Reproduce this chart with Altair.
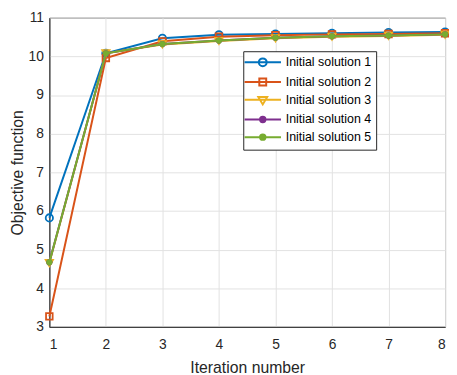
import altair as alt
import pandas as pd

iterations = [1, 2, 3, 4, 5, 6, 7, 8]
series_names = ["Initial solution 1", "Initial solution 2", "Initial solution 3",
                "Initial solution 4", "Initial solution 5"]
sol1 = [5.82, 10.08, 10.47, 10.56, 10.58, 10.60, 10.62, 10.63]
sol2 = [3.27, 9.96, 10.39, 10.51, 10.55, 10.57, 10.58, 10.60]
sol3 = [4.65, 10.08, 10.31, 10.40, 10.47, 10.51, 10.53, 10.56]
sol4 = [4.67, 10.08, 10.32, 10.41, 10.48, 10.52, 10.54, 10.57]
sol5 = [4.67, 10.08, 10.32, 10.41, 10.48, 10.52, 10.54, 10.57]
colors = ["#0072BD", "#D95319", "#EDB120", "#7E2F8E", "#77AC30"]
x_ticks = [1, 2, 3, 4, 5, 6, 7, 8]
y_ticks = [3, 4, 5, 6, 7, 8, 9, 10, 11]

all_series = [sol1, sol2, sol3, sol4, sol5]
rows = []
for name, vals in zip(series_names, all_series):
    for it, v in zip(iterations, vals):
        rows.append({"iteration": it, "value": v, "series": name})
df = pd.DataFrame(rows)

FONT = "Liberation Sans"
TXT = "#262626"

xs = alt.Scale(domain=[1, 8], nice=False, zero=False)
ys = alt.Scale(domain=[3, 11], nice=False, zero=False)
cs = alt.Scale(domain=series_names, range=colors)

X = alt.X("iteration:Q", scale=xs,
          axis=alt.Axis(values=x_ticks, title="Iteration number", format="d"))
Y = alt.Y("value:Q", scale=ys,
          axis=alt.Axis(values=y_ticks, title="Objective function", format="d"))

# marker shapes for plot points
plot_shapes = ["circle", "square", "triangle-down", "circle", "circle"]
plot_filled = [False, False, False, True, True]
plot_sizes = [55, 45, 55, 40, 40]

# legend symbol paths: line + marker (unit = 5px with symbolSize 100)
line = "M-3.7,0H3.7"
circ = "M0.8,0A0.8,0.8,0,1,1,-0.8,0A0.8,0.8,0,1,1,0.8,0"
sq = "M-0.7,-0.7H0.7V0.7H-0.7Z"
tri = "M-0.9,-0.55H0.9L0,0.95Z"
dot = ("M0.55,0A0.55,0.55,0,1,1,-0.55,0A0.55,0.55,0,1,1,0.55,0"
       "M0.35,0A0.35,0.35,0,1,1,-0.35,0A0.35,0.35,0,1,1,0.35,0"
       "M0.15,0A0.15,0.15,0,1,1,-0.15,0A0.15,0.15,0,1,1,0.15,0")
legend_paths = [line + circ, line + sq, line + tri, line + dot, line + dot]

base = alt.Chart(df)
layers = []
for i, name in enumerate(series_names):
    sub = base.transform_filter(alt.datum.series == name)
    layers.append(sub.mark_line(strokeWidth=2, color=colors[i]).encode(x=X, y=Y))
    if plot_filled[i]:
        pts = sub.mark_point(filled=True, opacity=1, strokeWidth=0, color=colors[i],
                             size=plot_sizes[i], shape=plot_shapes[i])
    else:
        pts = sub.mark_point(filled=False, opacity=1, strokeWidth=1.8, color=colors[i],
                             size=plot_sizes[i], shape=plot_shapes[i])
    layers.append(pts.encode(x=X, y=Y))

legend_layer = base.transform_filter("datum.iteration < 0").mark_point(
    filled=False, strokeWidth=2, opacity=1).encode(
    x=X, y=Y,
    color=alt.Color("series:N", scale=cs, title=None,
                    legend=alt.Legend(title=None)),
    shape=alt.Shape("series:N", title=None,
                    scale=alt.Scale(domain=series_names, range=legend_paths),
                    legend=alt.Legend(title=None)),
)
layers.append(legend_layer)

chart = alt.layer(*layers).properties(
    width=402, height=314,
    autosize=alt.AutoSizeParams(type="none"),
    padding={"left": 42, "top": 7, "right": 4, "bottom": 46},
).configure_view(
    stroke=TXT, strokeWidth=1
).configure_axis(
    labelFont=FONT, titleFont=FONT, labelFontSize=14, titleFontSize=16,
    labelColor=TXT, titleColor=TXT, titleFontWeight="normal",
    domainColor=TXT, tickColor=TXT, tickSize=0,
    gridColor="#e2e2e2", gridWidth=1,
).configure_axisX(
    labelPadding=11, titlePadding=8,
).configure_axisY(
    labelPadding=6, titlePadding=3,
).configure_legend(
    orient="none", legendX=197, legendY=34,
    strokeColor=TXT, fillColor="white", padding=5,
    labelFont=FONT, labelFontSize=12.6, labelColor="black",
    symbolSize=100, symbolStrokeWidth=2, symbolOffset=8.5,
    labelOffset=17, rowPadding=3,
)

chart.save("out.html", embed_options={"renderer": "svg", "actions": False})
